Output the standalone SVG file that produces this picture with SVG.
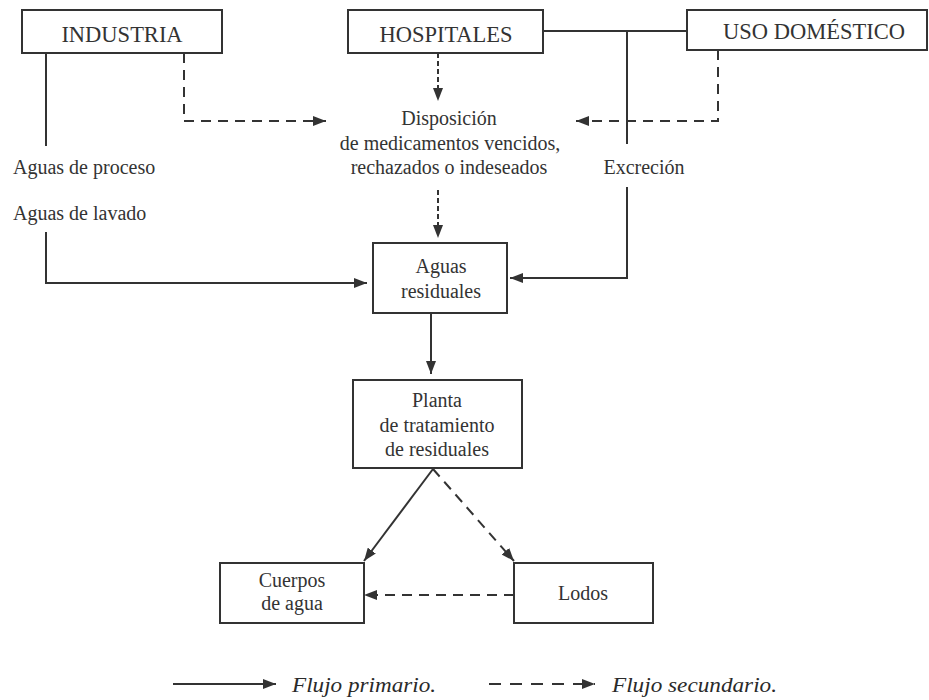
<svg xmlns="http://www.w3.org/2000/svg" width="929" height="700" viewBox="0 0 929 700">
<style>
.box{fill:#fff;stroke:#333;stroke-width:2}
.t{font-family:"Liberation Serif","Times New Roman",serif;font-size:20px;fill:#333;text-anchor:middle}
.tl{font-family:"Liberation Serif","Times New Roman",serif;font-size:20px;fill:#333}
.big{font-family:"Liberation Serif","Times New Roman",serif;font-size:22.5px;fill:#333;text-anchor:middle}
.leg{font-family:"Liberation Serif","Times New Roman",serif;font-size:20px;font-style:italic;fill:#2a2a2a}
.s{fill:none;stroke:#333;stroke-width:2}
.d{fill:none;stroke:#333;stroke-width:2;stroke-dasharray:10 7}
.ds{fill:none;stroke:#333;stroke-width:2;stroke-dasharray:5 3}
</style>
<defs>
<marker id="ah" viewBox="0 0 13 10" refX="13" refY="5" markerWidth="13" markerHeight="10" markerUnits="userSpaceOnUse" orient="auto">
<path d="M0,0 L13,5 L0,10 Z" fill="#333"/>
</marker>
</defs>
<g id="connectors">
<path class="s" d="M46,53 V146"/>
<path class="s" d="M46,232 V283 H367" marker-end="url(#ah)"/>
<path class="s" d="M543,31 H687"/>
<path class="s" d="M627,31 V144"/>
<path class="s" d="M627,187 V278 H510" marker-end="url(#ah)"/>
<path class="d" d="M184,53 V121 H326" marker-end="url(#ah)"/>
<path class="d" d="M718,50 V121 H576" marker-end="url(#ah)"/>
<path class="ds" d="M438,53 V101" marker-end="url(#ah)"/>
<path class="ds" d="M438,190 V238" marker-end="url(#ah)"/>
<path class="s" d="M431,313 V374" marker-end="url(#ah)"/>
<path class="s" d="M433,469 L364,561" marker-end="url(#ah)"/>
<path class="d" d="M433,469 L514,561" marker-end="url(#ah)"/>
<path class="d" d="M514,595 H364" marker-end="url(#ah)"/>
</g>
<g id="industria">
<rect class="box" x="22" y="10" width="200" height="43"/>
<text class="big" x="122" y="42">INDUSTRIA</text>
</g>
<g id="hospitales">
<rect class="box" x="348" y="10" width="195" height="43"/>
<text class="big" x="446" y="42">HOSPITALES</text>
</g>
<g id="uso-domestico">
<rect class="box" x="687" y="10" width="240" height="40"/>
<text class="big" x="814" y="39">USO DOMÉSTICO</text>
</g>
<g id="labels">
<text class="tl" x="13" y="174">Aguas de proceso</text>
<text class="tl" x="13" y="220">Aguas de lavado</text>
<text class="t" x="644" y="174">Excreción</text>
</g>
<g id="disposicion">
<text class="t" x="449" y="125">Disposición</text>
<text class="t" x="450" y="150">de medicamentos vencidos,</text>
<text class="t" x="449" y="174">rechazados o indeseados</text>
</g>
<g id="aguas-residuales">
<rect class="box" x="373" y="243" width="134" height="70"/>
<text class="t" x="441" y="273">Aguas</text>
<text class="t" x="441" y="298">residuales</text>
</g>
<g id="planta">
<rect class="box" x="353" y="380" width="169" height="88"/>
<text class="t" x="437" y="407">Planta</text>
<text class="t" x="437" y="432">de tratamiento</text>
<text class="t" x="437" y="456">de residuales</text>
</g>
<g id="cuerpos-de-agua">
<rect class="box" x="220" y="563" width="144" height="60"/>
<text class="t" x="292" y="587">Cuerpos</text>
<text class="t" x="292" y="610">de agua</text>
</g>
<g id="lodos">
<rect class="box" x="514" y="563" width="139" height="60"/>
<text class="t" x="583" y="600">Lodos</text>
</g>
<g id="legend">
<path class="s" d="M173,684 H276" marker-end="url(#ah)"/>
<text class="leg" x="292" y="692" textLength="144" lengthAdjust="spacingAndGlyphs">Flujo primario.</text>
<path class="s" d="M489,684 H595" stroke-dasharray="12 9" marker-end="url(#ah)"/>
<text class="leg" x="612" y="692" textLength="165" lengthAdjust="spacingAndGlyphs">Flujo secundario.</text>
</g>
</svg>
